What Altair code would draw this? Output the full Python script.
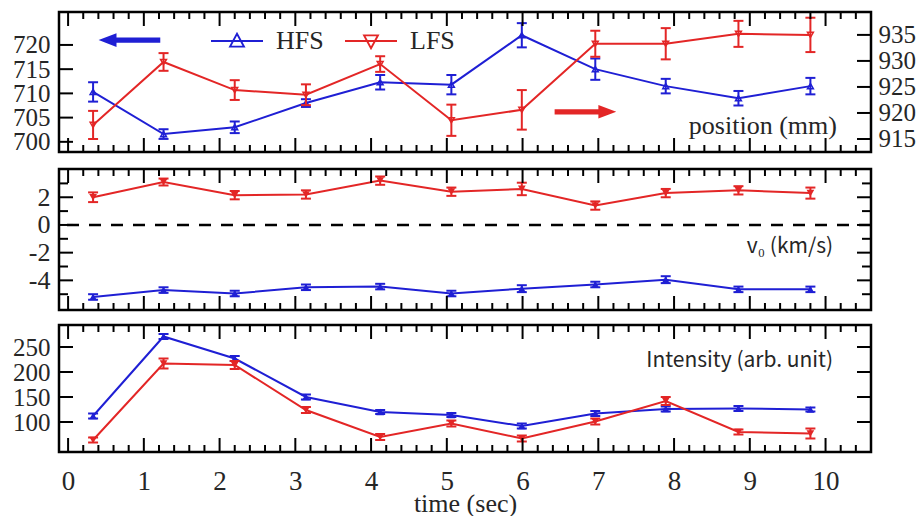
import altair as alt
import pandas as pd

BLUE = "#1f1fd4"
RED = "#e32626"
INK = "#262626"
SERIF = "Liberation Serif"
SANS = "Noto Sans CJK JP"

# ---- measurements (one entry per time slice) ----
time_s = [0.33, 1.26, 2.20, 3.14, 4.12, 5.06, 5.99, 6.96, 7.89, 8.85, 9.80]

pos_hfs = [710.3, 701.6, 703.0, 708.0, 712.3, 711.8, 722.0, 715.0, 711.5, 709.0, 711.5]
pos_hfs_err = [2.0, 1.0, 1.2, 0.8, 1.5, 2.0, 2.5, 2.2, 1.5, 1.5, 1.7]
pos_lfs = [917.7, 929.8, 924.4, 923.5, 929.4, 918.6, 920.6, 933.3, 933.3, 935.2, 935.0]
pos_lfs_err = [2.7, 1.7, 1.9, 2.0, 1.5, 3.0, 3.8, 2.5, 3.0, 2.5, 3.3]

v0_hfs = [-5.2, -4.7, -4.95, -4.5, -4.45, -4.95, -4.6, -4.3, -3.95, -4.65, -4.65]
v0_hfs_err = [0.2, 0.2, 0.2, 0.2, 0.2, 0.2, 0.25, 0.2, 0.25, 0.2, 0.2]
v0_lfs = [2.0, 3.1, 2.15, 2.2, 3.2, 2.4, 2.6, 1.4, 2.3, 2.5, 2.3]
v0_lfs_err = [0.35, 0.25, 0.3, 0.3, 0.3, 0.3, 0.45, 0.3, 0.3, 0.3, 0.4]

int_hfs = [112, 271, 227, 150, 120, 114, 92, 117, 126, 127, 125]
int_hfs_err = [5, 5, 5, 5, 4, 4, 5, 5, 5, 5, 4]
int_lfs = [64, 217, 214, 124, 70, 97, 67, 101, 142, 80, 77]
int_lfs_err = [5, 10, 8, 6, 6, 6, 6, 6, 8, 5, 10]

SERIES = ["HFS", "LFS"]

# ---- axis ticks and scale domains ----
X_DOM = [-0.12, 10.6]
X_MAJOR = list(range(0, 11))
X_MINOR = [round(i * 0.2, 1) for i in range(1, 53) if i % 5]

POS_H_DOM = [697.9, 726.8]
POS_L_DOM = [912.5, 939.4]
POS_H_TICKS = [700, 705, 710, 715, 720]
POS_L_TICKS = [915, 920, 925, 930, 935]

V0_DOM = [-6.14, 4.04]
V0_LABELED = [-4, -2, 0, 2]
V0_MINOR = [-5, -3, -1, 1, 3]

INT_DOM = [40, 294]
INT_TICKS = [100, 150, 200, 250]

# panel annotations (time, value-on-panel-scale, text)
arrow_time = [0.81, 6.83]
arrow_pos = [721.0, 706.2]
note_pos = (10.15, 701.6, "position (mm)")
note_v0 = (10.1, -2.0, "v\u2080 (km/s)")
note_int = (10.1, 210, "Intensity (arb. unit)")

W = 812
MAJOR_LEN, MINOR_LEN = 14, 7
XSC = alt.Scale(domain=X_DOM, nice=False, zero=False)

# symbol paths: legend keys (line + triangle) and direction arrows
KEY_UP = "M-1,0H1M-0.27,0.22L0,-0.28L0.27,0.22Z"
KEY_DOWN = "M-1,0H1M-0.27,-0.22L0,0.28L0.27,-0.22Z"
ARROW_L = "M-1,0L-0.42,-0.22L-0.42,-0.085L1,-0.085L1,0.085L-0.42,0.085L-0.42,0.22Z"
ARROW_R = "M1,0L0.42,-0.22L0.42,-0.085L-1,-0.085L-1,0.085L0.42,0.085L0.42,0.22Z"


def yscale(dom):
    return alt.Scale(domain=dom, nice=False, zero=False)


def label_axis(orient, values, font_size=26, pad=9, label_expr=None, title=None):
    """Labels only; the inward tick marks are drawn as rule layers."""
    kw = dict(
        orient=orient, values=values, ticks=False, tickSize=0, domain=False,
        grid=False, title=title, labelFont=SERIF, labelFontSize=font_size,
        labelColor=INK, labelPadding=pad, labelOverlap=False, labelFlush=False,
    )
    if label_expr:
        kw["labelExpr"] = label_expr
    if title:
        kw.update(titleFont=SERIF, titleFontSize=26, titleFontWeight="normal",
                  titleColor=INK, titlePadding=-4)
    return alt.Axis(**kw)


def x_tick_layers(height):
    layers = []
    for ticks, ln in [(X_MAJOR, MAJOR_LEN), (X_MINOR, MINOR_LEN)]:
        df = pd.DataFrame({"tick": ticks})
        for y0, y1 in [(0, ln), (height, height - ln)]:
            layers.append(
                alt.Chart(df).mark_rule(color="black", strokeWidth=2).encode(
                    x=alt.X("tick:Q", scale=XSC, axis=None),
                    y=alt.value(y0), y2=alt.value(y1),
                )
            )
    return layers


def y_tick_layers(ticks, dom, ln, sides):
    df = pd.DataFrame({"tick": ticks})
    layers = []
    for side in sides:
        x0, x1 = (0, ln) if side == "left" else (W, W - ln)
        layers.append(
            alt.Chart(df).mark_rule(color="black", strokeWidth=2).encode(
                y=alt.Y("tick:Q", scale=yscale(dom), axis=None),
                x=alt.value(x0), x2=alt.value(x1),
            )
        )
    return layers


def note_layer(note, dom, font, size):
    t, v, txt = note
    df = pd.DataFrame({"time": [t], "value": [v], "label": [txt]})
    return alt.Chart(df).mark_text(
        align="right", baseline="alphabetic", font=font, fontSize=size, color=INK
    ).encode(
        x=alt.X("time:Q", scale=XSC, axis=None),
        y=alt.Y("value:Q", scale=yscale(dom), axis=None),
        text="label:N",
    )


def panel(h_vals, h_errs, l_vals, l_errs, h_dom, l_dom, h_yax, l_yax,
          x_ax, open_marks, height, extras):
    layers = []
    specs = [
        (h_vals, h_errs, h_dom, BLUE, "triangle-up", h_yax, x_ax),
        (l_vals, l_errs, l_dom, RED, "triangle-down", l_yax, None),
    ]
    for vals, errs, dom, color, shape, yax, xax in specs:
        df = pd.DataFrame({"time": time_s, "value": vals, "err": errs})
        base = alt.Chart(df)
        line = base.mark_line(color=color, strokeWidth=2).encode(
            x=alt.X("time:Q", scale=XSC, axis=xax),
            y=alt.Y("value:Q", scale=yscale(dom), axis=yax),
        )
        err = base.transform_calculate(
            lo="datum.value - datum.err", hi="datum.value + datum.err"
        ).mark_errorbar(
            ticks={"opacity": 1}, size=10, thickness=2, color=color, opacity=1
        ).encode(
            x=alt.X("time:Q", scale=XSC, axis=None),
            y=alt.Y("lo:Q", scale=yscale(dom), axis=None),
            y2="hi:Q",
        )
        pts = base.mark_point(
            shape=shape, filled=not open_marks, size=35 if open_marks else 60,
            strokeWidth=1.5, color=color, opacity=1,
        ).encode(
            x=alt.X("time:Q", scale=XSC, axis=None),
            y=alt.Y("value:Q", scale=yscale(dom), axis=None),
        )
        layers += [line, err, pts]
    layers += x_tick_layers(height) + extras
    return alt.layer(*layers).resolve_scale(y="independent").resolve_axis(
        x="independent", y="independent"
    ).properties(width=W, height=height)


# ---- top panel: position ----
legend = alt.Legend(
    title=None, orient="none", legendX=151, legendY=2, direction="horizontal",
    symbolSize=2704, symbolStrokeWidth=1.8, symbolFillColor="transparent",
    labelFont=SERIF, labelFontSize=26, labelColor=INK, labelOffset=12,
    columnPadding=17, padding=0,
)
legend_layer = alt.Chart(pd.DataFrame({"series": SERIES})).mark_point(
    filled=False, opacity=1, strokeWidth=1.8
).encode(
    color=alt.Color("series:N", scale=alt.Scale(domain=SERIES, range=[BLUE, RED]), legend=legend),
    shape=alt.Shape("series:N", scale=alt.Scale(domain=SERIES, range=[KEY_UP, KEY_DOWN]), legend=legend),
).transform_filter("false")

arrow_layers = []
for t, v, path, color in zip(arrow_time, arrow_pos, [ARROW_L, ARROW_R], [BLUE, RED]):
    arrow_layers.append(
        alt.Chart(pd.DataFrame({"time": [t], "value": [v]})).mark_point(
            shape=path, filled=True, size=3800, color=color, opacity=1, strokeWidth=0
        ).encode(
            x=alt.X("time:Q", scale=XSC, axis=None),
            y=alt.Y("value:Q", scale=yscale(POS_H_DOM), axis=None),
        )
    )

top = panel(
    pos_hfs, pos_hfs_err, pos_lfs, pos_lfs_err, POS_H_DOM, POS_L_DOM,
    label_axis("left", POS_H_TICKS, font_size=25),
    label_axis("right", POS_L_TICKS, font_size=25, pad=7),
    None, True, 140,
    y_tick_layers(POS_H_TICKS, POS_H_DOM, MAJOR_LEN, ["left"])
    + y_tick_layers(POS_L_TICKS, POS_L_DOM, MAJOR_LEN, ["right"])
    + [legend_layer] + arrow_layers + [note_layer(note_pos, POS_H_DOM, SERIF, 26)],
)

# ---- middle panel: velocity ----
zero_rule = alt.Chart(pd.DataFrame({"value": [0]})).mark_rule(
    color="black", strokeWidth=2.5, strokeDash=[12, 10]
).encode(y=alt.Y("value:Q", scale=yscale(V0_DOM), axis=None))

signed = "datum.value < 0 ? '-' + abs(datum.value) : '' + datum.value"
mid = panel(
    v0_hfs, v0_hfs_err, v0_lfs, v0_lfs_err, V0_DOM, V0_DOM,
    label_axis("left", V0_LABELED, label_expr=signed),
    None,
    None, False, 141,
    y_tick_layers(V0_LABELED, V0_DOM, MAJOR_LEN, ["left", "right"])
    + y_tick_layers(V0_MINOR, V0_DOM, 9, ["left", "right"])
    + [zero_rule, note_layer(note_v0, V0_DOM, SANS, 21)],
)

# ---- bottom panel: intensity ----
bot = panel(
    int_hfs, int_hfs_err, int_lfs, int_lfs_err, INT_DOM, INT_DOM,
    label_axis("left", INT_TICKS, font_size=25),
    None,
    label_axis("bottom", X_MAJOR, font_size=27, pad=16, title="time (sec)"),
    False, 127,
    y_tick_layers(INT_TICKS, INT_DOM, MAJOR_LEN, ["left", "right"])
    + [note_layer(note_int, INT_DOM, SANS, 21)],
)

chart = alt.vconcat(top, mid, bot, spacing=9).properties(
    padding={"left": 11, "top": 9, "right": 0, "bottom": 0},
    background="white",
).configure_view(stroke="black", strokeWidth=2.5)

chart.save("out.html", embed_options={"renderer": "svg", "actions": False})
